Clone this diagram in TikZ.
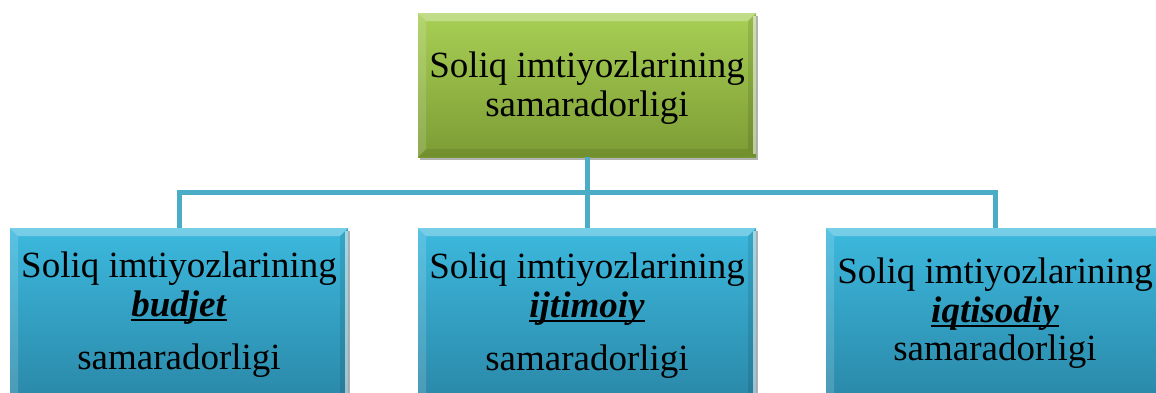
\documentclass[tikz,border=0pt]{standalone}
\usepackage{fontspec}
\setmainfont{Liberation Serif}
\usetikzlibrary{shadows}
\definecolor{conncol}{HTML}{4BACC6}
\definecolor{gtop}{HTML}{A8CF55}
\definecolor{gbot}{HTML}{7C9C34}
\definecolor{btop}{HTML}{3CB9DE}
\definecolor{bbot}{HTML}{2A86A6}
\newsavebox\ulwbox
\newcommand\ulw[1]{\sbox\ulwbox{\textbf{\textit{#1}}}\rlap{\rule[-5pt]{\wd\ulwbox}{2.2pt}}\usebox\ulwbox}
\tikzset{
  bevel/.style={path picture={
    \fill[white,opacity=.30] (path picture bounding box.north west) -- (path picture bounding box.north east)
      -- ([xshift=-8pt,yshift=-8pt]path picture bounding box.north east) -- ([xshift=8pt,yshift=-8pt]path picture bounding box.north west) -- cycle;
    \fill[white,opacity=.15] (path picture bounding box.north west) -- ([xshift=8pt,yshift=-8pt]path picture bounding box.north west)
      -- ([xshift=8pt,yshift=8pt]path picture bounding box.south west) -- (path picture bounding box.south west) -- cycle;
    \fill[black,opacity=.10] (path picture bounding box.north east) -- ([xshift=-8pt,yshift=-8pt]path picture bounding box.north east)
      -- ([xshift=-8pt,yshift=8pt]path picture bounding box.south east) -- (path picture bounding box.south east) -- cycle;
    \fill[black,opacity=.08] (path picture bounding box.south west) -- ([xshift=8pt,yshift=8pt]path picture bounding box.south west)
      -- ([xshift=-8pt,yshift=8pt]path picture bounding box.south east) -- (path picture bounding box.south east) -- cycle;
    \fill[white,opacity=.55] ([xshift=-3pt,yshift=-3pt]path picture bounding box.north east) rectangle ([yshift=3pt]path picture bounding box.south east);
  }},
  box/.style={rectangle, inner sep=0pt, minimum width=338pt, bevel,
    drop shadow={shadow xshift=2pt, shadow yshift=-3pt, opacity=.3, fill=black}},
  greenbox/.style={box, top color=gtop, bottom color=gbot, minimum height=144pt},
  bluebox/.style={box, top color=btop, bottom color=bbot, minimum height=180pt},
  label/.style={inner sep=0pt, align=center, anchor=north, text=black,
    font=\fontsize{37}{38.5}\selectfont},
  conn/.style={draw=conncol, line width=5pt, line join=miter}
}
\begin{document}
\begin{tikzpicture}[x=1pt,y=-1pt]
\useasboundingbox (0,0) rectangle (1156,392);
\coordinate (hub) at (587,192);
\node[greenbox] (top) at (587,85) {};
\node[bluebox] (b1) at (179,318) {};
\node[bluebox] (b2) at (587,318) {};
\node[bluebox] (b3) at (995,318) {};
\draw[conn] (top.south) -- (b2.north);
\draw[conn] ([xshift=-2.5pt]hub) -| (b1.north);
\draw[conn] ([xshift=2.5pt]hub) -| (b3.north);
\node[label] (t0) at (587,52) {Soliq imtiyozlarining\\samaradorligi};
\node[label] (t1) at (179,252) {Soliq imtiyozlarining\\\ulw{budjet}\\[15pt]samaradorligi};
\node[label] (t2) at (587,253) {Soliq imtiyozlarining\\\ulw{ijtimoiy}\\[15pt]samaradorligi};
\node[label] (t3) at (995,258) {Soliq imtiyozlarining\\\ulw{iqtisodiy}\\samaradorligi};
\end{tikzpicture}
\end{document}
